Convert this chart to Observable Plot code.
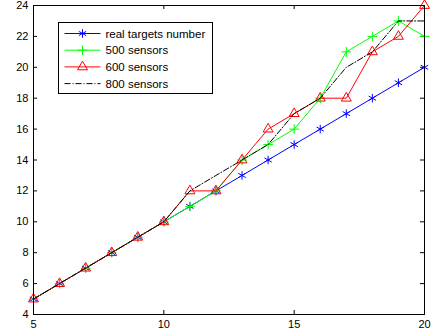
<!DOCTYPE html>
<html>
<head>
<meta charset="utf-8">
<script src="https://cdn.jsdelivr.net/npm/d3@7"></script>
<script src="https://cdn.jsdelivr.net/npm/@observablehq/plot@0.6"></script>
<style>
  html, body { margin: 0; padding: 0; background: #fff; }
  #chart { width: 433px; height: 335px; }
</style>
</head>
<body>
<div id="chart"></div>
<script>
const xs = [5, 6, 7, 8, 9, 10, 11, 12, 13, 14, 15, 16, 17, 18, 19, 20];
const realTargets = [5, 6, 7, 8, 9, 10, 11, 12, 13, 14, 15, 16, 17, 18, 19, 20];
const sensors500 = [5, 6, 7, 8, 9, 10, 11, 12, 14, 15, 16, 18, 21, 22, 23, 22];
const sensors600 = [5, 6, 7, 8, 9, 10, 12, 12, 14, 16, 17, 18, 18, 21, 22, 24];
const sensors800 = [5, 6, 7, 8, 9, 10, 12, 13, 14, 15, 17, 18, 20, 21, 23, 23];
const seriesNames = ["real targets number", "500 sensors", "600 sensors", "800 sensors"];
const xTicks = [5, 10, 15, 20];
const yTicks = [4, 6, 8, 10, 12, 14, 16, 18, 20, 22, 24];

const W = 433, H = 335;
const M = {top: 5, right: 9, bottom: 21, left: 33};
const innerW = W - M.left - M.right;
const innerH = H - M.top - M.bottom;

const toRows = vals => xs.map((x, i) => ({x, y: vals[i]}));
const rReal = toRows(realTargets);
const r500 = toRows(sensors500);
const r600 = toRows(sensors600);
const r800 = toRows(sensors800);

const styles = [
  {stroke: "#0000ff", symbol: "asterisk", r: 4, dash: null},
  {stroke: "#00ff00", symbol: "plus", r: 3.2, dash: null},
  {stroke: "#ff0000", symbol: "triangle", r: 3.7, dash: null},
  {stroke: "#000000", symbol: null, r: 0, dash: "6,2,1,2"}
];

const plot = Plot.plot({
  width: W,
  height: H,
  marginTop: M.top,
  marginRight: M.right,
  marginBottom: M.bottom,
  marginLeft: M.left,
  style: {fontFamily: "'Liberation Sans', Arial, sans-serif", fontSize: "11px", color: "#000", background: "#fff"},
  x: {domain: [5, 20]},
  y: {domain: [4, 24]},
  marks: [
    Plot.axisX({ticks: xTicks, tickSize: 0, tickPadding: 6, label: null, fontSize: 11}),
    Plot.axisY({ticks: yTicks, tickSize: 0, tickPadding: 5, label: null, fontSize: 11}),
    Plot.tickX(xTicks, {x: d => d, insetTop: innerH - 4, stroke: "#000"}),
    Plot.tickX(xTicks, {x: d => d, insetBottom: innerH - 4, stroke: "#000"}),
    Plot.tickY(yTicks, {y: d => d, insetRight: innerW - 4, stroke: "#000"}),
    Plot.tickY(yTicks, {y: d => d, insetLeft: innerW - 4, stroke: "#000"}),
    Plot.line(rReal, {x: "x", y: "y", stroke: styles[0].stroke, strokeWidth: 1}),
    Plot.dot(rReal, {x: "x", y: "y", stroke: styles[0].stroke, symbol: "asterisk", r: styles[0].r, strokeWidth: 1}),
    Plot.line(r500, {x: "x", y: "y", stroke: styles[1].stroke, strokeWidth: 1}),
    Plot.dot(r500, {x: "x", y: "y", stroke: styles[1].stroke, symbol: "plus", r: styles[1].r, strokeWidth: 1}),
    Plot.line(r600, {x: "x", y: "y", stroke: styles[2].stroke, strokeWidth: 1}),
    Plot.dot(r600, {x: "x", y: "y", stroke: styles[2].stroke, symbol: "triangle", r: styles[2].r, fill: "none", strokeWidth: 1}),
    Plot.line(r800, {x: "x", y: "y", stroke: styles[3].stroke, strokeWidth: 1, strokeDasharray: styles[3].dash}),
    Plot.frame({stroke: "#000", strokeWidth: 1})
  ]
});

document.getElementById("chart").appendChild(plot);

// Legend inside the plot area (top-left), MATLAB style
const svg = d3.select(plot);
const lg = svg.append("g").attr("transform", "translate(58.5,22.5)");
lg.append("rect").attr("width", 154).attr("height", 71).attr("fill", "#fff").attr("stroke", "#000").attr("stroke-width", 1);
const symbolMap = {asterisk: d3.symbolAsterisk, plus: d3.symbolPlus, triangle: d3.symbolTriangle};
seriesNames.forEach((name, i) => {
  const s = styles[i];
  const cy = 11 + i * 16.7;
  const row = lg.append("g").attr("transform", `translate(0,${cy})`);
  row.append("line").attr("x1", 6).attr("x2", 42).attr("y1", 0).attr("y2", 0)
    .attr("stroke", s.stroke).attr("stroke-width", 1)
    .attr("stroke-dasharray", s.dash);
  if (s.symbol) {
    const size = Math.PI * s.r * s.r;
    row.append("path").attr("transform", "translate(24,0)")
      .attr("d", d3.symbol(symbolMap[s.symbol], size)())
      .attr("fill", "none").attr("stroke", s.stroke).attr("stroke-width", 1);
  }
  row.append("text").attr("x", 47).attr("y", 0).attr("dy", "0.35em")
    .attr("text-anchor", "start")
    .attr("fill", "#000").attr("font-size", "11.5px").text(name);
});
</script>
</body>
</html>
